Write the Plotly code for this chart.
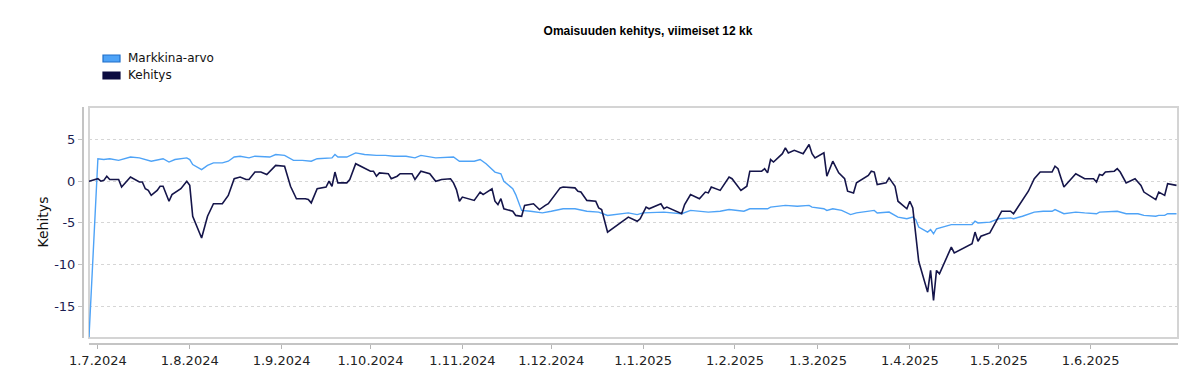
import plotly.graph_objects as go

# ---------------- data ----------------
kehitys_dates = [
    "2024-06-28", "2024-07-01", "2024-07-02", "2024-07-03", "2024-07-04", "2024-07-05", "2024-07-08",
    "2024-07-09", "2024-07-12", "2024-07-15", "2024-07-16", "2024-07-17", "2024-07-18", "2024-07-19",
    "2024-07-21", "2024-07-22", "2024-07-23", "2024-07-25", "2024-07-26", "2024-07-29", "2024-07-31",
    "2024-08-01", "2024-08-02", "2024-08-05", "2024-08-07", "2024-08-09", "2024-08-12", "2024-08-14",
    "2024-08-16", "2024-08-18", "2024-08-20", "2024-08-21", "2024-08-23", "2024-08-25", "2024-08-27",
    "2024-08-30", "2024-09-02", "2024-09-04", "2024-09-06", "2024-09-09", "2024-09-10", "2024-09-11",
    "2024-09-13", "2024-09-16", "2024-09-17", "2024-09-18", "2024-09-19", "2024-09-20", "2024-09-23",
    "2024-09-24", "2024-09-26", "2024-09-29", "2024-10-01", "2024-10-02", "2024-10-03", "2024-10-04",
    "2024-10-07", "2024-10-08", "2024-10-10", "2024-10-11", "2024-10-15", "2024-10-16", "2024-10-18",
    "2024-10-21", "2024-10-23", "2024-10-25", "2024-10-28", "2024-10-29", "2024-10-30", "2024-10-31",
    "2024-11-01", "2024-11-05", "2024-11-07", "2024-11-08", "2024-11-11", "2024-11-12", "2024-11-13",
    "2024-11-14", "2024-11-15", "2024-11-18", "2024-11-19", "2024-11-21", "2024-11-22", "2024-11-25",
    "2024-11-27", "2024-11-29", "2024-11-30", "2024-12-04", "2024-12-05", "2024-12-09", "2024-12-10",
    "2024-12-11", "2024-12-13", "2024-12-16", "2024-12-17", "2024-12-18", "2024-12-20", "2024-12-27",
    "2024-12-30", "2024-12-31", "2025-01-02", "2025-01-03", "2025-01-07", "2025-01-08", "2025-01-09",
    "2025-01-14", "2025-01-15", "2025-01-17", "2025-01-20", "2025-01-22", "2025-01-23", "2025-01-24",
    "2025-01-27", "2025-01-30", "2025-01-31", "2025-02-03", "2025-02-05", "2025-02-06", "2025-02-10",
    "2025-02-11", "2025-02-12", "2025-02-13", "2025-02-14", "2025-02-17", "2025-02-18", "2025-02-19",
    "2025-02-21", "2025-02-24", "2025-02-26", "2025-02-27", "2025-02-28", "2025-03-03", "2025-03-04",
    "2025-03-06", "2025-03-08", "2025-03-10", "2025-03-11", "2025-03-13", "2025-03-14", "2025-03-18",
    "2025-03-19", "2025-03-20", "2025-03-21", "2025-03-24", "2025-03-25", "2025-03-27", "2025-03-28",
    "2025-03-31", "2025-04-01", "2025-04-02", "2025-04-04", "2025-04-07", "2025-04-08", "2025-04-09",
    "2025-04-10", "2025-04-11", "2025-04-15", "2025-04-16", "2025-04-22", "2025-04-23", "2025-04-24",
    "2025-04-25", "2025-04-28", "2025-05-02", "2025-05-05", "2025-05-06", "2025-05-08", "2025-05-11",
    "2025-05-13", "2025-05-15", "2025-05-19", "2025-05-20", "2025-05-21", "2025-05-23", "2025-05-27",
    "2025-05-29", "2025-05-30", "2025-06-02", "2025-06-03", "2025-06-04", "2025-06-05", "2025-06-06",
    "2025-06-09", "2025-06-10", "2025-06-11", "2025-06-13", "2025-06-16", "2025-06-18", "2025-06-19",
    "2025-06-23", "2025-06-24", "2025-06-26", "2025-06-27", "2025-06-30",
]
kehitys_values = [
    0.0, 0.3, 0.0, 0.1, 0.6, 0.2, 0.2,
    -0.7, 0.5, -0.1, -0.1, -0.9, -1.1, -1.7,
    -1.1, -0.6, -0.6, -2.4, -1.6, -0.9, 0.0,
    -0.5, -4.2, -6.8, -4.2, -2.7, -2.7, -1.7,
    0.3, 0.5, 0.2, 0.2, 1.1, 1.1, 0.8,
    1.9, 1.8, -0.6, -2.1, -2.1, -2.2, -2.6,
    -0.9, -0.7, 0.0, -0.6, 1.1, -0.2, -0.2,
    0.2, 2.1, 1.6, 1.2, 1.2, 0.6, 1.0,
    0.9, 0.3, 0.6, 0.9, 0.9, 0.2, 1.2,
    0.9, 0.0, 0.2, 0.3, -0.2, -1.0, -2.4,
    -1.9, -2.3, -1.3, -1.6, -0.9, -2.4, -2.8,
    -2.1, -3.3, -3.6, -4.1, -4.2, -2.9, -2.7,
    -3.4, -2.9, -2.7, -0.8, -0.7, -0.8, -1.2,
    -1.3, -2.3, -2.4, -3.2, -3.4, -6.1, -4.3,
    -4.8, -4.5, -3.1, -3.3, -2.7, -3.3, -3.1,
    -3.9, -2.8, -1.6, -2.1, -1.3, -1.4, -0.7,
    -1.1, 0.5, 0.3, -1.1, -0.6, 1.2, 1.2,
    1.5, 1.0, 2.6, 2.3, 3.3, 4.0, 3.4,
    3.7, 3.3, 4.4, 3.3, 2.8, 3.4, 0.6,
    2.4, 1.0, 0.3, -1.2, -1.4, -0.2, 0.7,
    1.2, 1.1, -0.4, -0.2, 0.4, -0.6, -2.4,
    -3.3, -2.4, -3.2, -9.6, -13.3, -10.7, -14.3,
    -10.7, -11.1, -7.9, -8.6, -7.5, -6.1, -7.2,
    -6.6, -6.2, -3.6, -3.6, -3.9, -2.8, -1.2,
    0.3, 1.1, 1.1, 1.8, 1.5, -0.7, 0.9,
    0.5, 0.3, 0.3, -0.1, 0.8, 0.7, 1.1,
    1.2, 1.5, 1.1, -0.2, 0.3, -0.5, -1.3,
    -2.2, -1.3, -1.7, -0.3, -0.5,
]

markkina_dates = [
    "2024-06-28", "2024-07-01", "2024-07-03", "2024-07-05", "2024-07-08", "2024-07-12", "2024-07-15",
    "2024-07-19", "2024-07-23", "2024-07-25", "2024-07-27", "2024-07-31", "2024-08-01", "2024-08-02",
    "2024-08-05", "2024-08-07", "2024-08-09", "2024-08-12", "2024-08-14", "2024-08-16", "2024-08-18",
    "2024-08-21", "2024-08-23", "2024-08-28", "2024-08-30", "2024-09-02", "2024-09-05", "2024-09-08",
    "2024-09-11", "2024-09-13", "2024-09-18", "2024-09-19", "2024-09-20", "2024-09-23", "2024-09-26",
    "2024-09-29", "2024-10-03", "2024-10-06", "2024-10-09", "2024-10-13", "2024-10-16", "2024-10-18",
    "2024-10-23", "2024-10-28", "2024-10-29", "2024-10-31", "2024-11-05", "2024-11-07", "2024-11-09",
    "2024-11-12", "2024-11-14", "2024-11-15", "2024-11-18", "2024-11-19", "2024-11-20", "2024-11-21",
    "2024-11-24", "2024-11-28", "2024-12-01", "2024-12-05", "2024-12-09", "2024-12-13", "2024-12-17",
    "2024-12-19", "2024-12-20", "2024-12-27", "2024-12-30", "2025-01-01", "2025-01-08", "2025-01-14",
    "2025-01-17", "2025-01-23", "2025-01-27", "2025-01-30", "2025-02-04", "2025-02-06", "2025-02-12",
    "2025-02-13", "2025-02-18", "2025-02-22", "2025-02-26", "2025-02-27", "2025-03-03", "2025-03-04",
    "2025-03-06", "2025-03-09", "2025-03-12", "2025-03-14", "2025-03-20", "2025-03-21", "2025-03-25",
    "2025-03-28", "2025-03-31", "2025-04-02", "2025-04-03", "2025-04-04", "2025-04-07", "2025-04-08",
    "2025-04-09", "2025-04-10", "2025-04-15", "2025-04-22", "2025-04-23", "2025-04-24", "2025-04-28",
    "2025-05-01", "2025-05-05", "2025-05-06", "2025-05-09", "2025-05-13", "2025-05-16", "2025-05-19",
    "2025-05-20", "2025-05-23", "2025-05-27", "2025-05-30", "2025-06-03", "2025-06-04", "2025-06-10",
    "2025-06-13", "2025-06-17", "2025-06-19", "2025-06-23", "2025-06-24", "2025-06-26", "2025-06-27",
    "2025-06-30",
]
markkina_values = [
    -18.7, 2.7, 2.6, 2.7, 2.5, 2.9, 2.8,
    2.4, 2.7, 2.3, 2.6, 2.8, 2.6, 2.0,
    1.4, 1.9, 2.2, 2.2, 2.4, 2.9, 3.0,
    2.8, 3.0, 2.9, 3.2, 3.1, 2.5, 2.5,
    2.4, 2.7, 2.8, 3.2, 2.9, 2.9, 3.4,
    3.2, 3.1, 3.1, 3.0, 3.0, 2.8, 3.1,
    2.8, 2.9, 2.9, 2.4, 2.4, 2.6, 2.1,
    1.1, 0.9, 0.0, -0.9, -1.6, -2.6, -3.5,
    -3.6, -3.8, -3.6, -3.3, -3.3, -3.6, -3.7,
    -4.0, -4.1, -3.8, -4.0, -3.8, -3.7, -3.9,
    -3.5, -3.7, -3.6, -3.4, -3.6, -3.3, -3.3,
    -3.1, -2.9, -3.0, -2.9, -3.1, -3.3, -3.5,
    -3.3, -3.5, -4.0, -3.8, -3.5, -3.8, -3.7,
    -4.3, -4.5, -4.3, -4.6, -5.5, -6.1, -5.8,
    -6.3, -5.7, -5.2, -5.2, -4.8, -5.0, -4.9,
    -4.5, -4.4, -4.5, -4.2, -3.7, -3.6, -3.6,
    -3.4, -3.9, -3.7, -3.8, -3.9, -3.7, -3.6,
    -3.9, -3.9, -4.1, -4.2, -4.1, -4.1, -3.9,
    -3.9,
]

tick_dates = ["2024-07-01", "2024-08-01", "2024-09-01", "2024-10-01", "2024-11-01", "2024-12-01",
              "2025-01-01", "2025-02-01", "2025-03-01", "2025-04-01", "2025-05-01", "2025-06-01"]
tick_labels = ["1.7.2024", "1.8.2024", "1.9.2024", "1.10.2024", "1.11.2024", "1.12.2024",
               "1.1.2025", "1.2.2025", "1.3.2025", "1.4.2025", "1.5.2025", "1.6.2025"]
y_ticks = [5, 0, -5, -10, -15]

series_names = ["Markkina-arvo", "Kehitys"]
chart_title = "Omaisuuden kehitys, viimeiset 12 kk"
y_title = "Kehitys"

# ---------------- layout geometry (pixels) ----------------
W, H = 1181, 375
ML, MR, MT, MB = 83, 3, 107, 31
PW, PH = W - ML - MR, H - MT - MB


def px_x(px):
    return (px - ML) / PW


def px_y(py):
    return (H - MB - py) / PH


BLUE = "#4ea3f7"
NAVY = "#15154a"

fig = go.Figure()
fig.add_trace(go.Scatter(x=markkina_dates, y=markkina_values, mode="lines",
                         name=series_names[0], line=dict(color=BLUE, width=1.4),
                         showlegend=False))
fig.add_trace(go.Scatter(x=kehitys_dates, y=kehitys_values, mode="lines",
                         name=series_names[1], line=dict(color=NAVY, width=1.6),
                         showlegend=False))

# frame around plot area
fig.add_shape(type="rect", xref="x domain", yref="y domain", x0=0, x1=1, y0=0, y1=1,
              line=dict(color="#d4d4d4", width=2), layer="below")

# manual legend (rectangular swatches)
legend_fill = [BLUE, "#0c0c40"]
legend_border = ["#1f6fc9", "#0c0c40"]
legend_y = [58.5, 75.5]
for i in range(2):
    fig.add_shape(type="rect", xref="paper", yref="paper",
                  x0=px_x(103), x1=px_x(120), y0=px_y(legend_y[i] + 3.5), y1=px_y(legend_y[i] - 3.5),
                  fillcolor=legend_fill[i], line=dict(color=legend_border[i], width=1.2))
    fig.add_annotation(xref="paper", yref="paper", x=px_x(125.5), y=px_y(legend_y[i]),
                       text=series_names[i], showarrow=False, xanchor="left", yanchor="middle",
                       font=dict(family="DejaVu Sans", size=12, color="#111111"))

# y axis title
fig.add_annotation(xref="paper", yref="paper", x=px_x(42), y=px_y(222.5), text=y_title,
                   showarrow=False, textangle=-90, xanchor="center", yanchor="middle",
                   font=dict(family="DejaVu Sans", size=14, color="#111111"))

fig.update_layout(
    width=W, height=H,
    margin=dict(l=ML, r=MR, t=MT, b=MB, pad=0),
    paper_bgcolor="white", plot_bgcolor="white",
    title=dict(text="<b>" + chart_title + "</b>", x=648 / W, xanchor="center", xref="container",
               y=1 - 31 / H, yanchor="middle", yref="container",
               font=dict(family="Liberation Sans", size=12, color="#000000")),
    showlegend=False,
    xaxis=dict(
        type="date", domain=[6 / PW, 1], anchor="free", position=0,
        range=["2024-06-28", "2025-06-30 12:00"],
        tickvals=tick_dates, ticktext=tick_labels,
        showgrid=False, zeroline=False,
        showline=True, linecolor="#c4c4c4", linewidth=2,
        ticks="outside", ticklen=4, tickwidth=1, tickcolor="#b5b5b5",
        tickfont=dict(family="DejaVu Sans", size=13, color="#222222"),
    ),
    yaxis=dict(
        domain=[6 / PH, 1], anchor="free", position=0,
        range=[-18.8, 8.9],
        tickvals=y_ticks, ticktext=[str(v) for v in y_ticks],
        showgrid=True, gridcolor="#d6d6d6", gridwidth=1, griddash="3px,3px",
        zeroline=False,
        showline=True, linecolor="#c4c4c4", linewidth=2,
        ticks="outside", ticklen=4, tickwidth=1, tickcolor="#c4c4c4",
        tickfont=dict(family="DejaVu Sans", size=13, color="#1c1c50"),
    ),
)

fig.write_html("out.html", config={"displayModeBar": False},
               post_script="document.body.style.margin='0';")
